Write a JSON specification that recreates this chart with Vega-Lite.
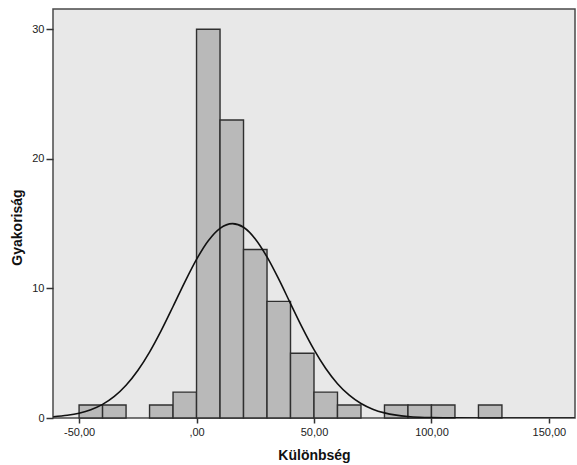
{
  "$schema": "https://vega.github.io/schema/vega-lite/v6.json",
  "autosize": {"type": "none"},
  "width": 522,
  "height": 409,
  "padding": {"left": 53, "top": 9, "right": 2, "bottom": 47},
  "background": "white",
  "config": {
    "view": {"fill": "#e8e8e8", "stroke": "#4a4a4a", "strokeWidth": 1.5},
    "font": "Liberation Sans",
    "axis": {
      "domain": false,
      "grid": false,
      "tickColor": "#333333",
      "tickWidth": 1.5,
      "labelColor": "#222222",
      "labelFont": "Liberation Sans",
      "labelFontSize": 11,
      "titleFont": "Liberation Sans",
      "titleFontSize": 14,
      "titleFontWeight": "bold",
      "titleColor": "#111111"
    }
  },
  "datasets": {
    "bins": [
      {"start": -50, "end": -40, "count": 1},
      {"start": -40, "end": -30, "count": 1},
      {"start": -20, "end": -10, "count": 1},
      {"start": -10, "end": 0, "count": 2},
      {"start": 0, "end": 10, "count": 30},
      {"start": 10, "end": 20, "count": 23},
      {"start": 20, "end": 30, "count": 13},
      {"start": 30, "end": 40, "count": 9},
      {"start": 40, "end": 50, "count": 5},
      {"start": 50, "end": 60, "count": 2},
      {"start": 60, "end": 70, "count": 1},
      {"start": 80, "end": 90, "count": 1},
      {"start": 90, "end": 100, "count": 1},
      {"start": 100, "end": 110, "count": 1},
      {"start": 120, "end": 130, "count": 1}
    ],
    "curve": [
      {"x": -61, "y": 0.096},
      {"x": -55, "y": 0.206},
      {"x": -50, "y": 0.37},
      {"x": -45, "y": 0.639},
      {"x": -40, "y": 1.055},
      {"x": -35, "y": 1.668},
      {"x": -30, "y": 2.526},
      {"x": -25, "y": 3.663},
      {"x": -20, "y": 5.085},
      {"x": -15, "y": 6.761},
      {"x": -10, "y": 8.605},
      {"x": -5, "y": 10.49},
      {"x": 0, "y": 12.24},
      {"x": 5, "y": 13.68},
      {"x": 10, "y": 14.64},
      {"x": 15.3, "y": 15.0},
      {"x": 20, "y": 14.72},
      {"x": 25, "y": 13.82},
      {"x": 30, "y": 12.43},
      {"x": 35, "y": 10.71},
      {"x": 40, "y": 8.83},
      {"x": 45, "y": 6.975},
      {"x": 50, "y": 5.274},
      {"x": 55, "y": 3.819},
      {"x": 60, "y": 2.647},
      {"x": 65, "y": 1.758},
      {"x": 70, "y": 1.117},
      {"x": 75, "y": 0.68},
      {"x": 80, "y": 0.396},
      {"x": 85, "y": 0.221},
      {"x": 90, "y": 0.118},
      {"x": 95, "y": 0.06},
      {"x": 100, "y": 0.03},
      {"x": 105, "y": 0.014},
      {"x": 110, "y": 0.006},
      {"x": 120, "y": 0.001},
      {"x": 135, "y": 0.0},
      {"x": 161, "y": 0.0}
    ]
  },
  "layer": [
    {
      "data": {"name": "bins"},
      "mark": {"type": "rect", "fill": "#b9b9b9", "stroke": "#2f2f2f", "strokeWidth": 1.4},
      "encoding": {
        "x": {
          "field": "start", "type": "quantitative",
          "scale": {"domain": [-61.1, 161.1], "nice": false, "zero": false},
          "axis": {
            "title": "Különbség",
            "values": [-50, 0, 50, 100, 150],
            "tickSize": 5,
            "labelPadding": 3,
            "titlePadding": 11,
            "labelExpr": "datum.value == 0 ? ',00' : (datum.value < 0 ? '-' : '') + replace(format(abs(datum.value), '.2f'), '.', ',')"
          }
        },
        "x2": {"field": "end"},
        "y": {
          "field": "count", "type": "quantitative",
          "scale": {"domain": [0, 31.56], "nice": false, "zero": true},
          "axis": {
            "title": "Gyakoriság",
            "values": [0, 10, 20, 30],
            "tickSize": 7,
            "labelPadding": 2,
            "titlePadding": 7,
            "titleY": 218
          }
        },
        "y2": {"datum": 0}
      }
    },
    {
      "data": {"name": "curve"},
      "mark": {"type": "line", "color": "#111111", "strokeWidth": 1.6, "interpolate": "monotone", "clip": true},
      "encoding": {
        "x": {"field": "x", "type": "quantitative"},
        "y": {"field": "y", "type": "quantitative"}
      }
    }
  ]
}
